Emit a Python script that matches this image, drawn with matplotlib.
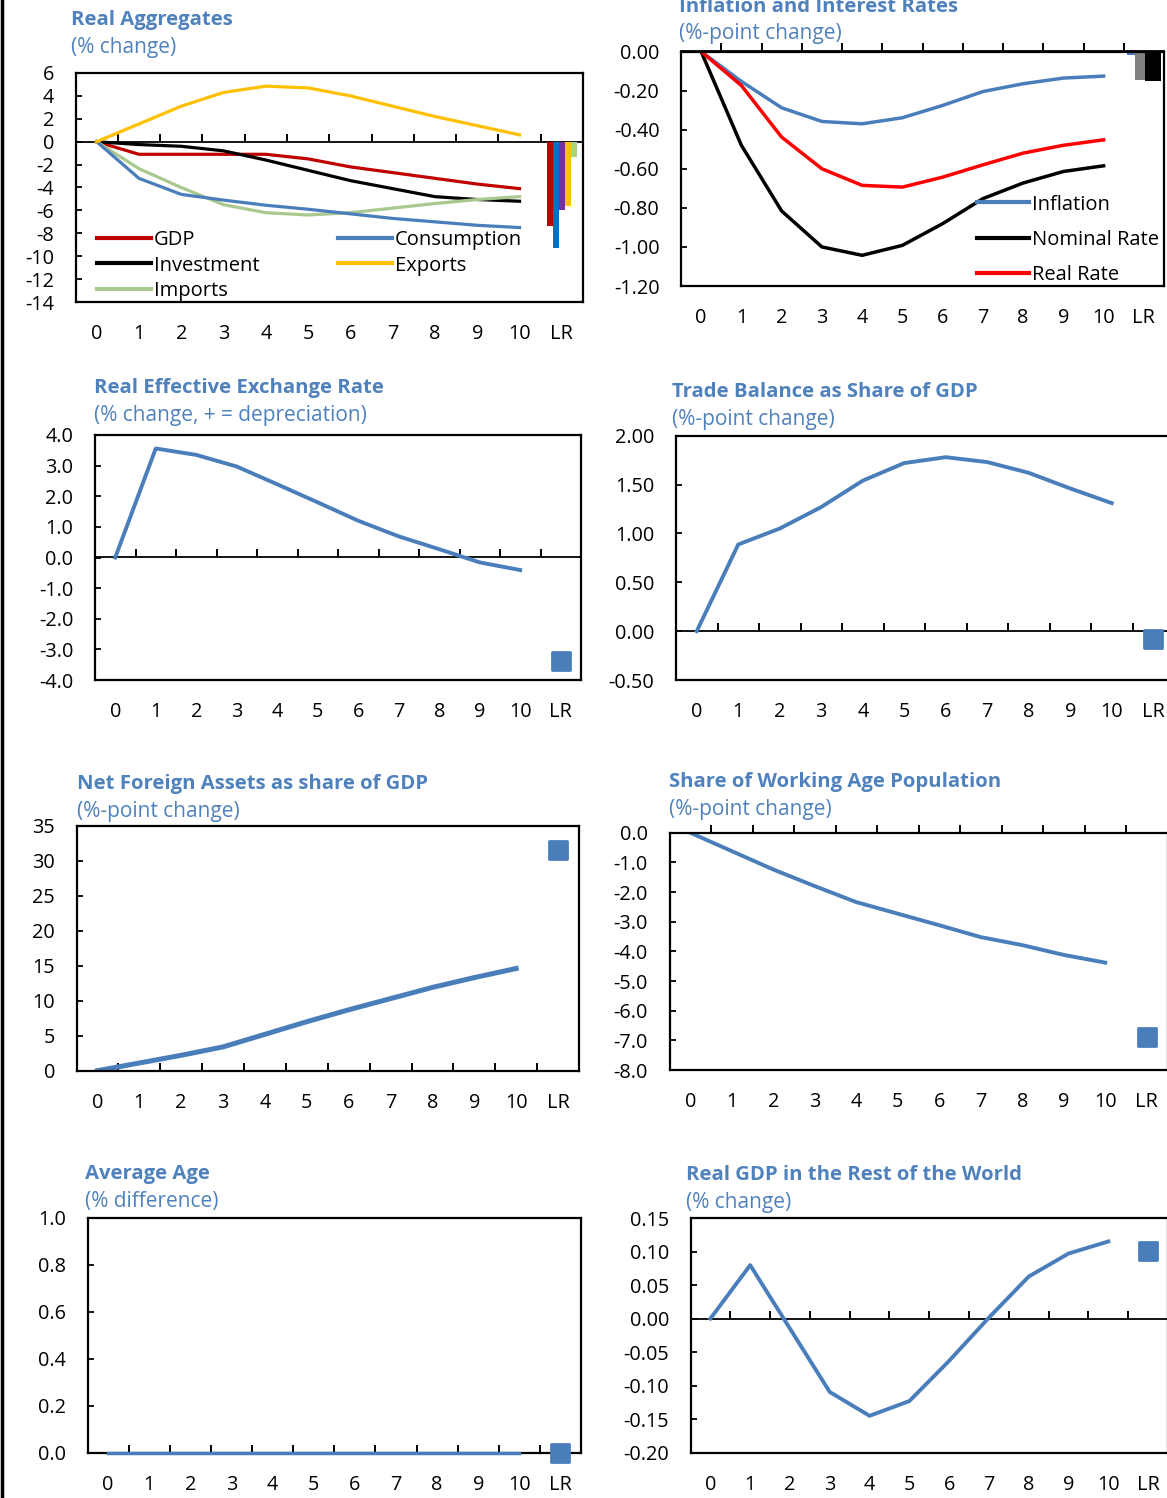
import numpy as np
import matplotlib
matplotlib.use("Agg")
import matplotlib.pyplot as plt
from matplotlib.markers import MarkerStyle
from matplotlib.lines import Line2D

plt.rcParams['font.family'] = ['Open Sans', 'DejaVu Sans']

W, H = 1167, 1498

# ---------------- data ----------------
x_labels = ["0", "1", "2", "3", "4", "5", "6", "7", "8", "9", "10", "LR"]
periods = list(range(11))
LR = 11

# Real aggregates (% change)
gdp = [0, -1.1, -1.1, -1.1, -1.1, -1.5, -2.2, -2.7, -3.2, -3.7, -4.1]
consumption = [0, -3.2, -4.6, -5.1, -5.55, -5.9, -6.3, -6.7, -7.0, -7.3, -7.5]
investment = [0, -0.25, -0.4, -0.8, -1.6, -2.5, -3.4, -4.1, -4.8, -5.05, -5.2]
exports = [0, 1.55, 3.1, 4.3, 4.85, 4.7, 4.0, 3.1, 2.2, 1.4, 0.6]
imports = [0, -2.35, -4.0, -5.5, -6.2, -6.4, -6.2, -5.8, -5.4, -5.05, -4.8]
agg_lr_names = ["GDP", "Consumption", "Investment", "Exports", "Imports"]
agg_lr = [-7.4, -9.3, -6.0, -5.65, -1.3]

# Inflation and interest rates (%-point change)
inflation = [0, -0.153, -0.288, -0.358, -0.37, -0.339, -0.276, -0.205, -0.165, -0.136, -0.126]
nominal_rate = [0, -0.48, -0.816, -1.0, -1.043, -0.992, -0.881, -0.753, -0.673, -0.614, -0.585]
real_rate = [0, -0.174, -0.438, -0.6, -0.685, -0.694, -0.643, -0.58, -0.52, -0.48, -0.452]
rates_lr = [-0.02, -0.145, -0.15]

# Real effective exchange rate
reer = [0, 3.56, 3.35, 2.97, 2.39, 1.8, 1.2, 0.69, 0.27, -0.16, -0.41]
reer_lr = -3.37

# Trade balance
trade = [0, 0.887, 1.05, 1.27, 1.54, 1.72, 1.78, 1.73, 1.62, 1.46, 1.31]
trade_lr = -0.085

# Net foreign assets
nfa = [0, 1.1, 2.2, 3.4, 5.2, 7.0, 8.7, 10.3, 11.9, 13.3, 14.6]
nfa_lr = 31.5

# Share of working age population
working = [0, -0.62, -1.24, -1.8, -2.34, -2.73, -3.12, -3.52, -3.79, -4.12, -4.38]
working_lr = -6.88

# Average age
avg_age = [0.0, 0.0, 0.0, 0.0, 0.0, 0.0, 0.0, 0.0, 0.0, 0.0, 0.0]
avg_age_lr = 0.0

# Real GDP in the rest of the world
row_gdp = [0, 0.0797, -0.015, -0.1095, -0.145, -0.123, -0.063, 0.0015, 0.0627, 0.097, 0.115]
row_gdp_lr = 0.101

# ---------------- style ----------------
BLUE = "#4A7EBB"
TITLE_C = "#4F81BD"
FS = 14.3
TFS = 14.6
SFS = 15
LFS = 14.5
XPAD = 16

fig = plt.figure(figsize=(W / 100, H / 100), dpi=100)
fig.add_artist(Line2D([0.0018, 0.0018], [0, 1], transform=fig.transFigure,
                      color="black", lw=2.5))


def make_ax(left, right, top, bottom, ylim, yticks, ylabels):
    ax = fig.add_axes([left / W, 1 - bottom / H, (right - left) / W, (bottom - top) / H])
    ax.set_xlim(-0.5, 11.5)
    ax.set_ylim(*ylim)
    ax.set_yticks(yticks)
    ax.set_yticklabels(ylabels)
    ax.set_xticks(range(12))
    ax.set_xticklabels(x_labels)
    ax.tick_params(axis='x', length=0, pad=XPAD, labelsize=FS)
    ax.tick_params(axis='y', direction='in', length=4, width=1.3, pad=15.5, labelsize=FS)
    for s in ax.spines.values():
        s.set_linewidth(1.6)
    frac = (0 - ylim[0]) / (ylim[1] - ylim[0])
    sec = ax.secondary_xaxis(frac)
    sec.set_alignment('top')
    sec.set_xticks(np.arange(0.5, 11, 1.0))
    sec.tick_params(axis='x', direction='out', length=5.5, width=1.4,
                    top=True, bottom=False, labeltop=False, labelbottom=False)
    sec.spines['top'].set_linewidth(1.3)
    return ax


def titles(x, y1, y2, t, s):
    fig.text(x / W, 1 - (y1 + 1.5) / H, t, ha='left', va='center', fontsize=TFS,
             fontweight='bold', color=TITLE_C)
    fig.text(x / W, 1 - (y2 + 1) / H, s, ha='left', va='center', fontsize=SFS,
             color=TITLE_C)


def lr_square(ax, val):
    ax.plot([LR], [val], linestyle='none',
            marker=MarkerStyle('s', joinstyle='round'), markersize=13,
            markeredgewidth=2, color=BLUE, clip_on=False, zorder=5)


# ---------- Panel 1: Real Aggregates ----------
ax1 = make_ax(75.5, 583, 73, 302, (-14, 6), list(range(-14, 7, 2)),
              [str(v) for v in range(-14, 7, 2)])
titles(71, 19, 46.5, "Real Aggregates", "(% change)")
l_gdp, = ax1.plot(periods, gdp, color="#C00000", lw=2.3, label="GDP")
l_inv, = ax1.plot(periods, investment, color="black", lw=2.3, label="Investment")
l_imp, = ax1.plot(periods, imports, color="#A9C98E", lw=2.3, label="Imports")
l_con, = ax1.plot(periods, consumption, color=BLUE, lw=2.3, label="Consumption")
l_exp, = ax1.plot(periods, exports, color="#FFC000", lw=2.3, label="Exports")
bar_w = 0.145
offs = (np.arange(len(agg_lr)) - 2) * bar_w
ax1.bar(LR + offs, agg_lr, width=bar_w,
        color=["#C00000", "#0070C0", "#7030A0", "#FFC000", "#A9D18E"])
leg1 = ax1.legend(handles=[l_gdp, l_inv, l_imp, l_con, l_exp], ncol=2,
                  loc='upper left', bbox_to_anchor=(0.042, 0.315), frameon=False,
                  fontsize=LFS, handlelength=2.7, handletextpad=0.12,
                  labelspacing=0.28, columnspacing=3.9, borderpad=0, borderaxespad=0)
for h in leg1.legend_handles:
    h.set_linewidth(3)

# ---------- Panel 2: Inflation and Interest Rates ----------
ax2 = make_ax(681, 1164, 51.5, 286, (-1.2, 0), [-1.2, -1.0, -0.8, -0.6, -0.4, -0.2, 0.0],
              ["-1.20", "-1.00", "-0.80", "-0.60", "-0.40", "-0.20", "0.00"])
titles(679, 5, 33, "Inflation and Interest Rates", "(%-point change)")
li, = ax2.plot(periods, inflation, color=BLUE, lw=2.5, label="Inflation")
ln, = ax2.plot(periods, nominal_rate, color="black", lw=2.5, label="Nominal Rate")
lrr, = ax2.plot(periods, real_rate, color="#FF0000", lw=2.5, label="Real Rate")
ax2.bar([LR - 0.307, LR - 0.086, LR + 0.23], rates_lr, width=[0.2, 0.246, 0.4],
        color=[BLUE, "#808080", "black"])
leg2 = ax2.legend(handles=[li, ln, lrr], loc='upper left', bbox_to_anchor=(0.613, 0.39),
                  frameon=False, fontsize=LFS, handlelength=2.6, handletextpad=0.12,
                  labelspacing=0.75, borderpad=0, borderaxespad=0)
for h in leg2.legend_handles:
    h.set_linewidth(3)

# ---------- Panel 3: REER ----------
ax3 = make_ax(95, 581, 435, 680, (-4, 4), [-4, -3, -2, -1, 0, 1, 2, 3, 4],
              ["-4.0", "-3.0", "-2.0", "-1.0", "0.0", "1.0", "2.0", "3.0", "4.0"])
titles(94, 386.5, 414.5, "Real Effective Exchange Rate", "(% change, + = depreciation)")
ax3.plot(periods, reer, color=BLUE, lw=2.8)
lr_square(ax3, reer_lr)

# ---------- Panel 4: Trade Balance ----------
ax4 = make_ax(676, 1174, 435.7, 680, (-0.5, 2.0), [-0.5, 0.0, 0.5, 1.0, 1.5, 2.0],
              ["-0.50", "0.00", "0.50", "1.00", "1.50", "2.00"])
titles(672, 390.5, 418.5, "Trade Balance as Share of GDP", "(%-point change)")
ax4.plot(periods, trade, color=BLUE, lw=2.8)
lr_square(ax4, trade_lr)

# ---------- Panel 5: NFA ----------
ax5 = make_ax(76.5, 579, 825.7, 1070.7, (0, 35), [0, 5, 10, 15, 20, 25, 30, 35],
              ["0", "5", "10", "15", "20", "25", "30", "35"])
titles(77, 782.5, 811, "Net Foreign Assets as share of GDP", "(%-point change)")
ax5.plot(periods, nfa, color=BLUE, lw=3.6)
lr_square(ax5, nfa_lr)

# ---------- Panel 6: Working Age ----------
ax6 = make_ax(669.5, 1167.5, 832.7, 1070, (-8, 0), [-8, -7, -6, -5, -4, -3, -2, -1, 0],
              ["-8.0", "-7.0", "-6.0", "-5.0", "-4.0", "-3.0", "-2.0", "-1.0", "0.0"])
titles(669, 780.5, 808.5, "Share of Working Age Population", "(%-point change)")
ax6.plot(periods, working, color=BLUE, lw=2.8)
lr_square(ax6, working_lr)

# ---------- Panel 7: Average Age ----------
ax7 = make_ax(87.5, 581, 1217.7, 1452.7, (0, 1.0), [0.0, 0.2, 0.4, 0.6, 0.8, 1.0],
              ["0.0", "0.2", "0.4", "0.6", "0.8", "1.0"])
titles(85, 1172.5, 1200, "Average Age", "(% difference)")
ax7.plot(periods, avg_age, color=BLUE, lw=2.5, clip_on=False, zorder=4)
lr_square(ax7, avg_age_lr)

# ---------- Panel 8: ROW GDP ----------
ax8 = make_ax(690.5, 1168, 1218, 1452.7, (-0.2, 0.15),
              [-0.2, -0.15, -0.1, -0.05, 0.0, 0.05, 0.1, 0.15],
              ["-0.20", "-0.15", "-0.10", "-0.05", "0.00", "0.05", "0.10", "0.15"])
titles(686, 1174, 1201.5, "Real GDP in the Rest of the World", "(% change)")
ax8.plot(periods, row_gdp, color=BLUE, lw=2.8)
lr_square(ax8, row_gdp_lr)

fig.savefig("out.png", dpi=100)
